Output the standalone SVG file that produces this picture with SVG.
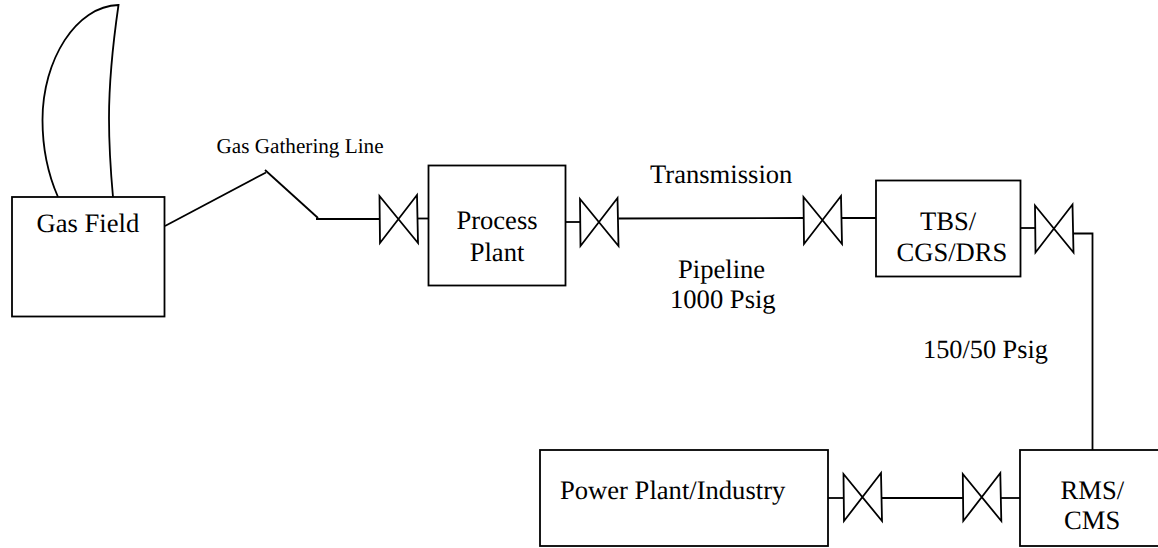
<svg xmlns="http://www.w3.org/2000/svg" width="1158" height="548" viewBox="0 0 1158 548">
<style>
.s{fill:none;stroke:#000;stroke-width:1.8}
.b{fill:#fff;stroke:#000;stroke-width:1.8}
text{font-family:"Liberation Serif","Times New Roman",serif;font-size:26.6px;fill:#000;text-rendering:geometricPrecision}
</style>
<defs>
<path id="v" class="s" d="M379.500 196L418 243L417 195L380 243Z"/>
</defs>
<rect width="1158" height="548" fill="#fff"/>
<g id="connectors">
<path class="s" d="M165 226L266 172.500"/>
<path class="s" d="M265 170L318 218"/>
<path class="s" d="M316 219H379.500"/>
<path class="s" d="M418 218.500H428.500"/>
<path class="s" d="M565.500 222H580"/>
<path class="s" d="M618.500 218.500L804 218"/>
<path class="s" d="M842 218H876"/>
<path class="s" d="M1020.500 228H1035"/>
<path class="s" d="M1074 233.500H1092.500V450"/>
<path class="s" d="M828 498H843"/>
<path class="s" d="M882 498H963"/>
<path class="s" d="M1001 498H1020"/>
</g>
<g id="flare"><path class="s" d="M58 197C47 172 42.500 146 42.500 120C42.500 60 76 6 118.500 5C112 50 109 90 109 118C109 150 111 175 113 197"/></g>
<g id="gas-field"><rect class="b" x="12" y="197" width="152.500" height="119.500"/><text x="36.500" y="232">Gas Field</text></g>
<g id="gathering-label"><text x="216.500" y="153" style="font-size:21.200px">Gas Gathering Line</text></g>
<g id="valve-1"><use href="#v"/></g>
<g id="process-plant"><rect class="b" x="428.500" y="165.500" width="137" height="120"/><text x="497" y="229" text-anchor="middle">Process</text><text x="497" y="261" text-anchor="middle">Plant</text></g>
<g id="valve-2"><use href="#v" x="200.500" y="3"/></g>
<g id="transmission-label"><text x="650" y="183">Transmission</text></g>
<g id="pipeline-label"><text x="678" y="278">Pipeline</text><text x="670" y="308">1000 Psig</text></g>
<g id="valve-3"><use href="#v" x="424" y="1"/></g>
<g id="tbs"><rect class="b" x="876" y="180.500" width="144.500" height="96"/><text x="920" y="230">TBS/</text><text x="896.500" y="261">CGS/DRS</text></g>
<g id="valve-4"><use href="#v" x="655.500" y="9.500"/></g>
<g id="pressure-label"><text x="923" y="358" style="font-size:26.300px">150/50 Psig</text></g>
<g id="power-plant"><rect class="b" x="540" y="450" width="288" height="96"/><text x="560" y="499">Power Plant/Industry</text></g>
<g id="valve-5"><use href="#v" x="464" y="278"/></g>
<g id="valve-6"><use href="#v" x="583.300" y="278"/></g>
<g id="rms"><rect class="b" x="1020" y="450" width="170" height="96"/><text x="1060.500" y="499">RMS/</text><text x="1064" y="529">CMS</text></g>
</svg>
